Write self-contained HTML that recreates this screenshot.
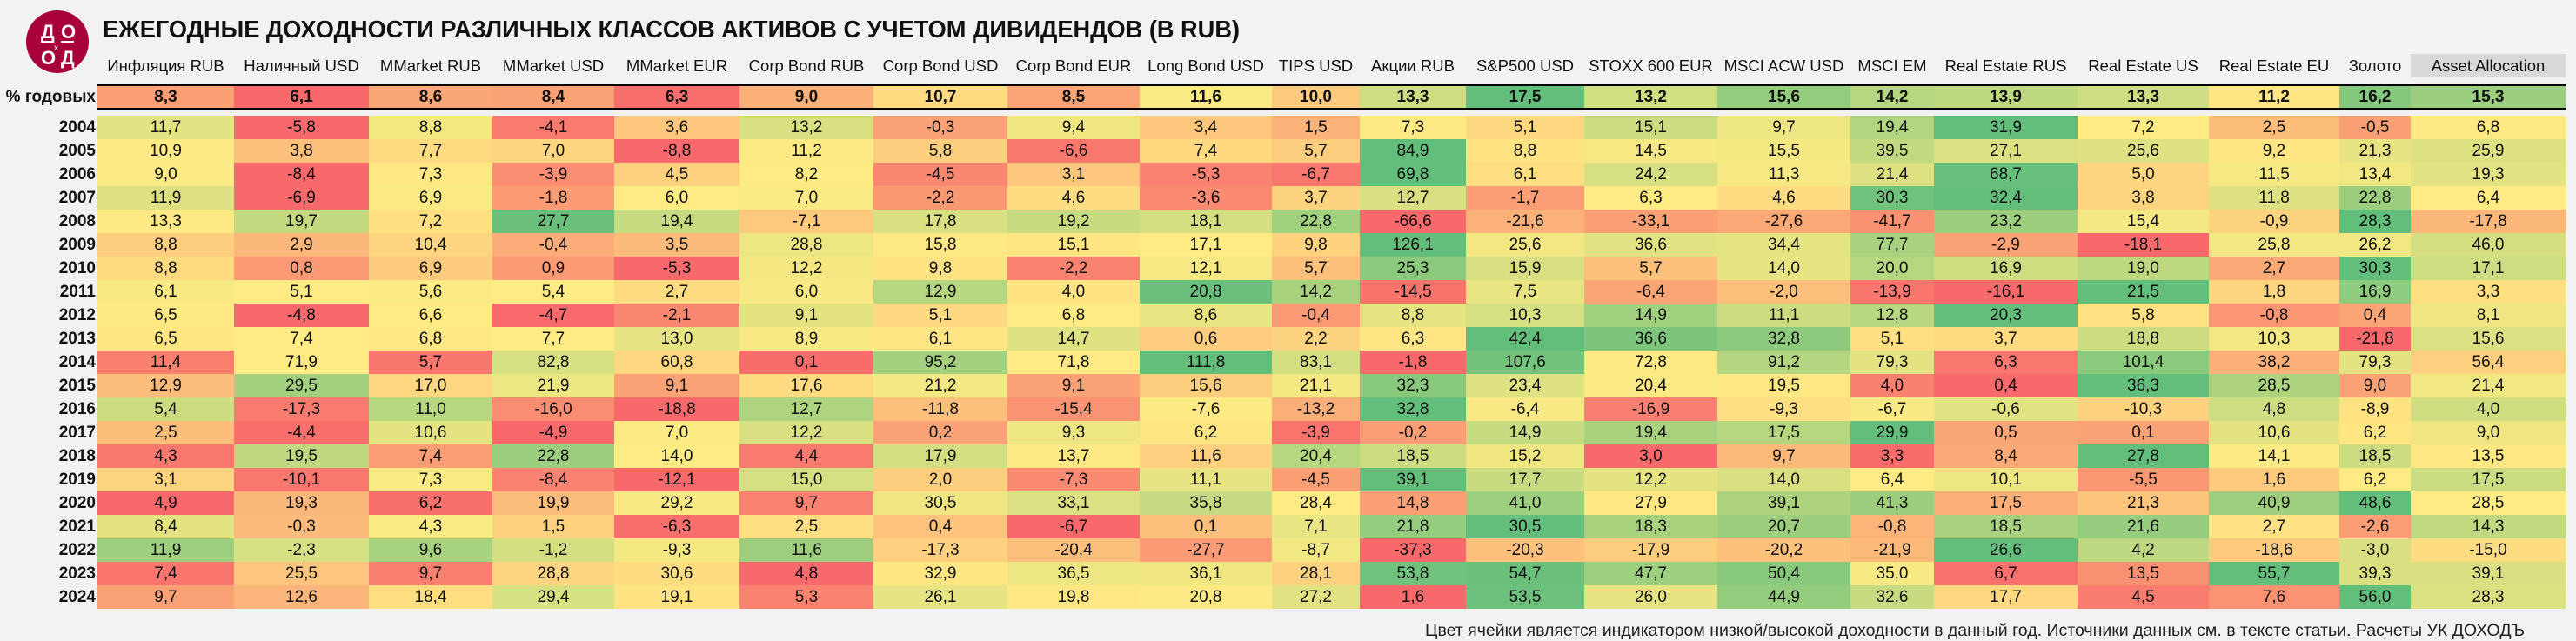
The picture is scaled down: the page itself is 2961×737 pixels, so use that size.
<!DOCTYPE html>
<html><head><meta charset="utf-8">
<style>
html,body{margin:0;padding:0;background:#F2F2F2;}
body{width:2961px;height:737px;position:relative;overflow:hidden;font-family:"Liberation Sans Narrow","Liberation Sans","DejaVu Sans",sans-serif;color:#111;}
.c{position:absolute;display:flex;align-items:center;justify-content:center;font-size:19px;box-sizing:border-box;}
.h{position:absolute;font-size:18.5px;text-align:center;white-space:nowrap;display:flex;align-items:center;justify-content:center;}
.y{position:absolute;font-size:19px;font-weight:bold;text-align:right;display:flex;align-items:center;justify-content:flex-end;}
</style></head><body>
<svg width="2961" height="737" style="position:absolute;left:0;top:0">
<circle cx="66" cy="48" r="36" fill="#A8003B"/>
<text x="47" y="44" font-family="Liberation Sans" font-weight="bold" font-size="22" fill="#fff">Д</text>
<text x="70" y="44" font-family="Liberation Sans" font-weight="bold" font-size="22" fill="#fff">О</text>
<text x="47" y="74" font-family="Liberation Sans" font-weight="bold" font-size="22" fill="#fff">О</text>
<text x="70" y="74" font-family="Liberation Sans" font-weight="bold" font-size="22" fill="#fff">Д</text>
<text x="62" y="58" font-family="Liberation Sans" font-size="10" fill="#fff">x</text>
<rect x="47" y="47" width="15" height="2" fill="#fff"/><rect x="70" y="47" width="15" height="2" fill="#fff"/>
<text x="118" y="43" font-family="Liberation Sans Narrow, Liberation Sans, sans-serif" font-weight="bold" font-size="28" textLength="1307" lengthAdjust="spacingAndGlyphs" fill="#111">ЕЖЕГОДНЫЕ ДОХОДНОСТИ РАЗЛИЧНЫХ КЛАССОВ АКТИВОВ С УЧЕТОМ ДИВИДЕНДОВ (В RUB)</text>
<text x="1638" y="731" font-family="Liberation Sans Narrow, Liberation Sans, sans-serif" font-size="19" textLength="1264" lengthAdjust="spacingAndGlyphs" fill="#222">Цвет ячейки является индикатором низкой/высокой доходности в данный год. Источники данных см. в тексте статьи. Расчеты УК ДОХОДЪ</text>
</svg>
<div id="t"></div>
<script>
var X=[112,269,424,566,706,850,1004,1158,1310,1462,1563,1685,1821,1974,2127,2223,2388,2539,2689,2771,2949];
var H=["Инфляция RUB","Наличный USD","MMarket RUB","MMarket USD","MMarket EUR","Corp Bond RUB","Corp Bond USD","Corp Bond EUR","Long Bond USD","TIPS USD","Акции RUB","S&P500 USD","STOXX 600 EUR","MSCI ACW USD","MSCI EM","Real Estate RUS","Real Estate US","Real Estate EU","Золото","Asset Allocation"];
var P=[8.3,6.1,8.6,8.4,6.3,9.0,10.7,8.5,11.6,10.0,13.3,17.5,13.2,15.6,14.2,13.9,13.3,11.2,16.2,15.3];
var D=[
[11.7,-5.8,8.8,-4.1,3.6,13.2,-0.3,9.4,3.4,1.5,7.3,5.1,15.1,9.7,19.4,31.9,7.2,2.5,-0.5,6.8],
[10.9,3.8,7.7,7.0,-8.8,11.2,5.8,-6.6,7.4,5.7,84.9,8.8,14.5,15.5,39.5,27.1,25.6,9.2,21.3,25.9],
[9.0,-8.4,7.3,-3.9,4.5,8.2,-4.5,3.1,-5.3,-6.7,69.8,6.1,24.2,11.3,21.4,68.7,5.0,11.5,13.4,19.3],
[11.9,-6.9,6.9,-1.8,6.0,7.0,-2.2,4.6,-3.6,3.7,12.7,-1.7,6.3,4.6,30.3,32.4,3.8,11.8,22.8,6.4],
[13.3,19.7,7.2,27.7,19.4,-7.1,17.8,19.2,18.1,22.8,-66.6,-21.6,-33.1,-27.6,-41.7,23.2,15.4,-0.9,28.3,-17.8],
[8.8,2.9,10.4,-0.4,3.5,28.8,15.8,15.1,17.1,9.8,126.1,25.6,36.6,34.4,77.7,-2.9,-18.1,25.8,26.2,46.0],
[8.8,0.8,6.9,0.9,-5.3,12.2,9.8,-2.2,12.1,5.7,25.3,15.9,5.7,14.0,20.0,16.9,19.0,2.7,30.3,17.1],
[6.1,5.1,5.6,5.4,2.7,6.0,12.9,4.0,20.8,14.2,-14.5,7.5,-6.4,-2.0,-13.9,-16.1,21.5,1.8,16.9,3.3],
[6.5,-4.8,6.6,-4.7,-2.1,9.1,5.1,6.8,8.6,-0.4,8.8,10.3,14.9,11.1,12.8,20.3,5.8,-0.8,0.4,8.1],
[6.5,7.4,6.8,7.7,13.0,8.9,6.1,14.7,0.6,2.2,6.3,42.4,36.6,32.8,5.1,3.7,18.8,10.3,-21.8,15.6],
[11.4,71.9,5.7,82.8,60.8,0.1,95.2,71.8,111.8,83.1,-1.8,107.6,72.8,91.2,79.3,6.3,101.4,38.2,79.3,56.4],
[12.9,29.5,17.0,21.9,9.1,17.6,21.2,9.1,15.6,21.1,32.3,23.4,20.4,19.5,4.0,0.4,36.3,28.5,9.0,21.4],
[5.4,-17.3,11.0,-16.0,-18.8,12.7,-11.8,-15.4,-7.6,-13.2,32.8,-6.4,-16.9,-9.3,-6.7,-0.6,-10.3,4.8,-8.9,4.0],
[2.5,-4.4,10.6,-4.9,7.0,12.2,0.2,9.3,6.2,-3.9,-0.2,14.9,19.4,17.5,29.9,0.5,0.1,10.6,6.2,9.0],
[4.3,19.5,7.4,22.8,14.0,4.4,17.9,13.7,11.6,20.4,18.5,15.2,3.0,9.7,3.3,8.4,27.8,14.1,18.5,13.5],
[3.1,-10.1,7.3,-8.4,-12.1,15.0,2.0,-7.3,11.1,-4.5,39.1,17.7,12.2,14.0,6.4,10.1,-5.5,1.6,6.2,17.5],
[4.9,19.3,6.2,19.9,29.2,9.7,30.5,33.1,35.8,28.4,14.8,41.0,27.9,39.1,41.3,17.5,21.3,40.9,48.6,28.5],
[8.4,-0.3,4.3,1.5,-6.3,2.5,0.4,-6.7,0.1,7.1,21.8,30.5,18.3,20.7,-0.8,18.5,21.6,2.7,-2.6,14.3],
[11.9,-2.3,9.6,-1.2,-9.3,11.6,-17.3,-20.4,-27.7,-8.7,-37.3,-20.3,-17.9,-20.2,-21.9,26.6,4.2,-18.6,-3.0,-15.0],
[7.4,25.5,9.7,28.8,30.6,4.8,32.9,36.5,36.1,28.1,53.8,54.7,47.7,50.4,35.0,6.7,13.5,55.7,39.3,39.1],
[9.7,12.6,18.4,29.4,19.1,5.3,26.1,19.8,20.8,27.2,1.6,53.5,26.0,44.9,32.6,17.7,4.5,7.6,56.0,28.3]];
var R=[248,105,107],Yc=[255,235,132],G=[99,190,123];
function mix(a,b,t){return 'rgb('+a.map(function(v,i){return Math.round(v+(b[i]-v)*t)}).join(',')+')';}
function colors(row){var s=row.slice().sort(function(a,b){return a-b});var n=s.length;var p=(n-1)*0.5;var lo=Math.floor(p);var med=s[lo]+(s[Math.min(lo+1,n-1)]-s[lo])*(p-lo);var mn=s[0],mx=s[n-1];
return row.map(function(v){if(v<=med){var t=med==mn?1:(v-mn)/(med-mn);return mix(R,Yc,t);}else{var t=mx==med?1:(v-med)/(mx-med);return mix(Yc,G,t);}});}
function f(v){return v.toFixed(1).replace('.',',');}
var h='';
for(var i=0;i<20;i++){var w=X[i+1]-X[i];
 h+='<div class="h" style="left:'+X[i]+'px;top:62px;width:'+w+'px;height:27px;'+(i==19?'background:#D9D9D9;':'')+'">'+H[i].replace('&','&amp;')+'</div>';}
h+='<div style="position:absolute;left:112px;top:97px;width:2837px;height:2px;background:#000"></div>';
h+='<div style="position:absolute;left:112px;top:124px;width:2837px;height:2px;background:#000"></div>';
h+='<div class="y" style="left:0;top:99px;width:110px;height:25px">% годовых</div>';
var pc=colors(P);
for(var i=0;i<20;i++){h+='<div class="c" style="left:'+X[i]+'px;top:99px;width:'+(X[i+1]-X[i])+'px;height:25px;background:'+pc[i]+';font-weight:bold">'+f(P[i])+'</div>';}
for(var r=0;r<21;r++){var yy=133+r*27;var cc=colors(D[r]);
 h+='<div class="y" style="left:0;top:'+yy+'px;width:110px;height:27px">'+(2004+r)+'</div>';
 for(var i=0;i<20;i++){h+='<div class="c" style="left:'+X[i]+'px;top:'+yy+'px;width:'+(X[i+1]-X[i])+'px;height:27px;background:'+cc[i]+'">'+f(D[r][i])+'</div>';}}
document.getElementById('t').innerHTML=h;
</script>
</body></html>
